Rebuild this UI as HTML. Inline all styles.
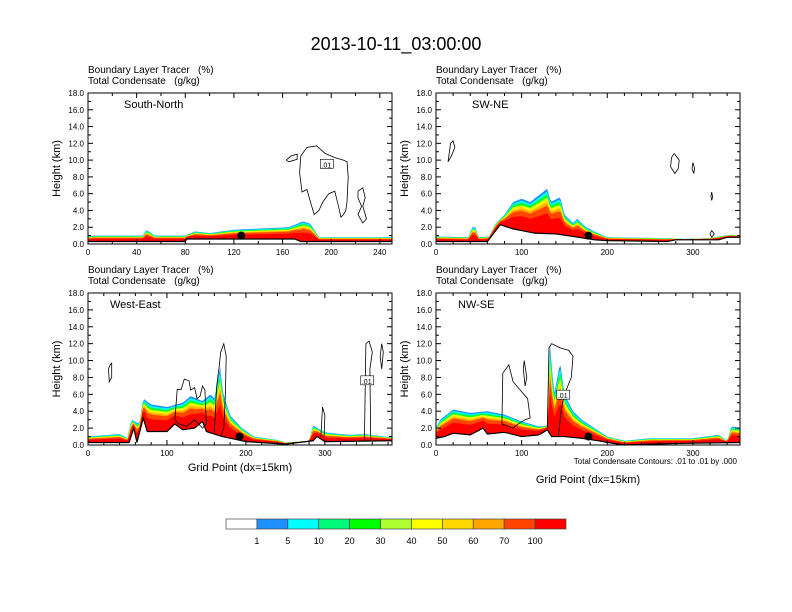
<!DOCTYPE html>
<html><head><meta charset="utf-8"><style>
body{margin:0;background:#fff;}
svg{display:block;font-family:"Liberation Sans",Arial,sans-serif;}
text{white-space:pre;}
</style></head><body>
<svg id="chart" width="792" height="612" viewBox="0 0 792 612" xmlns="http://www.w3.org/2000/svg">
<rect width="792" height="612" fill="#fff"/>
<text x="396" y="50" font-size="18" text-anchor="middle">2013-10-11_03:00:00</text>
<g id="panels"></g>
<g id="colorbar"></g>
</svg>
<script>
// ---- data ----
const levels = ["1","5","10","20","30","40","50","60","70","100"];
const colors = ["#ffffff","#1e90ff","#00ffff","#00fa7a","#00ff00","#adff2f","#ffff00","#ffd700","#ffa500","#ff4500","#ff0000"];
const snGP   = [0,5,45,48,55,80,88,100,120,150,165,177,183,190,250];
const snTop  = [0.9,1.0,1.0,1.7,1.0,1.0,1.5,1.3,1.7,1.9,2.0,2.7,2.4,0.8,0.8];
const snTerrGP = [0,80,81,170,175,190,250];
const snTerr   = [0.3,0.3,0.6,0.6,0.3,0.3,0.3];
const swGP  = [0,38,42,46,50,62,70,80,90,100,110,120,130,134,145,150,160,165,175,185,200,270,290,320,330,345,355];
const swTop = [0.9,0.8,2.0,2.0,0.8,0.9,2.5,3.5,5.0,5.4,5.0,5.8,6.6,5.0,5.6,3.5,2.5,3.0,2.0,1.5,0.8,0.7,0.6,0.7,0.9,1.1,1.0];
const swTerrGP = [0,60,75,90,100,115,140,160,185,200,270,280,330,340,355];
const swTerr   = [0.3,0.3,2.3,1.8,1.6,1.3,1.2,0.9,0.5,0.4,0.3,0.5,0.5,0.8,0.8];
const weGP  = [0,40,50,55,65,70,80,100,120,130,145,155,160,168,170,180,195,210,240,250,280,285,300,330,350,385];
const weTop = [1.0,1.3,0.8,3.0,2.5,5.5,4.8,4.5,5.0,5.8,5.2,6.0,5.5,9.5,6.5,3.5,2.0,1.0,0.6,0.3,0.5,2.3,1.5,1.2,1.3,0.9];
const weTerrGP = [0,52,58,62,70,75,100,110,120,135,145,150,170,185,200,250,285,290,300,385];
const weTerr   = [0.3,0.3,2.0,0.3,3.2,1.6,1.6,2.5,1.8,2.0,2.8,1.6,1.0,0.7,0.4,0.1,0.5,1.0,0.4,0.5];
const nwGP  = [0,5,20,40,60,80,100,120,130,133,138,145,150,160,170,185,200,220,250,300,330,340,345,355];
const nwTop = [2.0,3.0,4.2,3.8,4.0,3.6,2.8,2.2,2.3,12.0,6.0,9.8,6.0,4.0,3.0,2.0,1.0,0.5,0.8,0.8,1.2,0.5,2.2,2.0];
const nwTerrGP = [0,10,20,40,55,60,80,100,120,130,135,150,170,190,200,220,250,290,355];
const nwTerr   = [0.8,1.0,1.4,1.2,2.0,1.3,1.5,1.0,1.2,1.8,1.0,1.0,0.8,0.5,0.3,0.0,0.1,0.2,0.3];
// contours: [gp, km] pairs
const snC = [
 [[175,10.5],[180,11.5],[188,11.7],[195,10.8],[203,10.3],[210,10.0],[213,9.8],[214,8],[213,5],[212,4],[210,3.5],[208,3.2],[206,4.5],[203,6.3],[198,6.0],[193,5.0],[190,4.0],[186,3.5],[183,5],[180,6.5],[176,6.2],[174,8.5],[175,10.5]],
 [[163,10.0],[167,10.5],[172,10.7],[172,10.1],[165,9.8],[163,10.0]],
 [[222,6.3],[226,6.7],[228,5.5],[226,4.5],[229,3.0],[226,2.5],[222,3.5],[225,4.5],[222,5.5],[222,6.3]]];
const swC = [
 [[14,9.8],[17,12],[20,12.3],[22,11.5],[18,10.5],[14,9.8]],
 [[278,10.8],[284,10],[283,9],[279,8.4],[274,9.2],[275,10.3],[278,10.8]],
 [[300,9.7],[302,9.0],[301,8.4],[299,9.0],[300,9.7]],
 [[322,6.2],[323,5.6],[322,5.2],[321,5.7],[322,6.2]],
 [[320,1.2],[322,1.6],[325,1.2],[322,0.8],[320,1.2]]];
const weC = [
 [[28,9.5],[30,9.7],[30,8],[27,7.5],[26,9],[28,9.5]],
 [[110,3],[113,6.6],[118,6.6],[122,7.8],[128,7.6],[130,6.5],[135,6.8],[138,5.5],[142,5.8],[145,7.0],[148,6.5],[150,2.5],[145,2.0],[135,3.0],[125,2.2],[115,2.5],[110,3]],
 [[160,1.5],[163,7],[166,9.2],[168,11],[172,12],[175,10.5],[174,6],[172,2],[168,1.0]],
 [[350,0.5],[352,12],[356,12.3],[360,11],[357,9],[358,0.5]],
 [[370,10.5],[372,12],[374,11],[372,9],[370,10.5]],
 [[295,1.0],[297,4.5],[300,3.5],[299,1]]];
const nwC = [
 [[77,2.5],[78,8.5],[85,9.5],[90,7.5],[100,6.3],[107,5.5],[110,3.2],[104,3.0],[96,2.5],[90,2.0],[77,2.5]],
 [[103,10.0],[106,8],[104,7],[102,9],[103,10.0]],
 [[130,2],[132,11.5],[135,12],[145,11.5],[155,11.2],[160,10.5],[158,8],[150,6.0],[146,4.0],[143,1.0]]];
const panelTitles = ["South-North","SW-NE","West-East","NW-SE"];
const yTicks = [0,2,4,6,8,10,12,14,16,18];
const snXTicks = [0,40,80,120,160,200,240];
const oXTicks = [0,100,200,300];

const NS="http://www.w3.org/2000/svg";
function mk(tag,attrs,parent){const e=document.createElementNS(NS,tag);for(const k in attrs)e.setAttribute(k,attrs[k]);parent.appendChild(e);return e;}
function interp(xs,ys,x){if(x<=xs[0])return ys[0];for(let i=1;i<xs.length;i++){if(x<=xs[i]){const t=(x-xs[i-1])/(xs[i]-xs[i-1]);return ys[i-1]+t*(ys[i]-ys[i-1]);}}return ys[ys.length-1];}
const fracs=[1,0.94,0.89,0.85,0.81,0.77,0.73,0.68,0.62,0.45];
const root=document.getElementById('panels');

function panel(cfg){
 const {L,T,W,H,xmax,xt,minor,gp,top,tgp,terr,cont,dot,title,label,xlabelDy,note}=cfg;
 const sx=v=>L+W*v/xmax, sy=v=>T+H*(1-v/18);
 const g=mk('g',{},root);
 
 
 const t1=mk('text',{x:L,y:T-20,'font-size':10},g);t1.textContent='Boundary Layer Tracer   (%)';
 
 const t2=mk('text',{x:L,y:T-9,'font-size':10},g);t2.textContent='Total Condensate   (g/kg)';
 
 const N=200;
 for(let k=0;k<fracs.length;k++){
  let up=[],dn=[];
  for(let i=0;i<=N;i++){const x=xmax*i/N;const tr=interp(tgp,terr,x);const tp=interp(gp,top,x);
   const h=tr+Math.max(0,tp-tr)*fracs[k];up.push(sx(x).toFixed(1)+','+sy(h).toFixed(1));dn.push(sx(x).toFixed(1)+','+sy(Math.min(tr,tp)).toFixed(1));}
  const p=mk('polygon',{points:up.concat(dn.reverse()).join(' '),fill:colors[k+1]},g);
  
  
 }
 const tl=mk('polyline',{points:tgp.map((x,i)=>sx(x)+','+sy(terr[i])).join(' '),fill:'none',stroke:'#000','stroke-width':1.2},g);
 
 cont.forEach(c=>{const p=mk('polyline',{points:c.map(q=>sx(q[0]).toFixed(1)+','+sy(q[1]).toFixed(1)).join(' '),fill:'none',stroke:'#000','stroke-width':0.8},g);
  });
 if(label){const r=mk('rect',{x:sx(label[0])-6,y:sy(label[1])-5,width:13,height:9,fill:'#fff',stroke:'#000','stroke-width':0.6},g);
  
  const lt=mk('text',{x:sx(label[0]),y:sy(label[1])+3,'font-size':7,'text-anchor':'middle'},g);lt.textContent='.01';
  }
 const d=mk('circle',{cx:sx(dot[0]),cy:sy(dot[1]),r:4,fill:'#000'},g);
 
 const fr=mk('rect',{x:L,y:T,width:W,height:H,fill:'none',stroke:'#000','stroke-width':1},g);
 
 yTicks.forEach(v=>{const y=sy(v);mk('line',{x1:L,x2:L+5,y1:y,y2:y,stroke:'#000'},g);mk('line',{x1:L+W,x2:L+W-5,y1:y,y2:y,stroke:'#000'},g);
  if(v<18){mk('line',{x1:L,x2:L+3,y1:sy(v+1),y2:sy(v+1),stroke:'#000'},g);mk('line',{x1:L+W,x2:L+W-3,y1:sy(v+1),y2:sy(v+1),stroke:'#000'},g);}
  const t=mk('text',{x:L-4,y:y+3,'font-size':8,'text-anchor':'end'},g);t.textContent=v.toFixed(1);
  });
 for(let v=0;v<=xmax;v+=minor){const x=sx(v);const maj=xt.includes(v);const l=maj?5:3;
  mk('line',{x1:x,x2:x,y1:T+H,y2:T+H-l,stroke:'#000'},g);mk('line',{x1:x,x2:x,y1:T,y2:T+l,stroke:'#000'},g);}
 xt.forEach(v=>{const t=mk('text',{x:sx(v),y:T+H+11,'font-size':8,'text-anchor':'middle'},g);t.textContent=v;
  });
 const yl=mk('text',{x:0,y:0,'font-size':11,'text-anchor':'middle',transform:`translate(${L-28},${T+H/2}) rotate(-90)`},g);yl.textContent='Height (km)';
 
 const pt=mk('text',{x:L+(title==='South-North'||title==='SW-NE'?36:22),y:T+15,'font-size':11},g);pt.textContent=title;
 
 if(xlabelDy){const xl=mk('text',{x:L+W/2,y:T+H+xlabelDy,'font-size':11,'text-anchor':'middle'},g);xl.textContent='Grid Point (dx=15km)';
  }
 if(note){const n=mk('text',{x:L+W-3,y:T+H+19,'font-size':8,'text-anchor':'end'},g);n.textContent='Total Condensate Contours: .01 to .01 by .000';
  }
}
panel({L:88,T:93,W:304,H:151,xmax:250,xt:snXTicks,minor:20,gp:snGP,top:snTop,tgp:snTerrGP,terr:snTerr,cont:snC,dot:[126,1.0],title:panelTitles[0],label:[196,9.5]});
panel({L:436,T:93,W:304,H:151,xmax:355,xt:oXTicks,minor:20,gp:swGP,top:swTop,tgp:swTerrGP,terr:swTerr,cont:swC,dot:[178,1.0],title:panelTitles[1]});
panel({L:88,T:293,W:304,H:152,xmax:385,xt:oXTicks,minor:20,gp:weGP,top:weTop,tgp:weTerrGP,terr:weTerr,cont:weC,dot:[192,1.0],title:panelTitles[2],label:[353,7.6],xlabelDy:26});
panel({L:436,T:293,W:304,H:152,xmax:355,xt:oXTicks,minor:20,gp:nwGP,top:nwTop,tgp:nwTerrGP,terr:nwTerr,cont:nwC,dot:[178,1.0],title:panelTitles[3],label:[148,5.9],xlabelDy:38,note:true});
const cb=document.getElementById('colorbar');
const cw=340/colors.length;
colors.forEach((c,i)=>{const r=mk('rect',{x:226+i*cw,y:519,width:cw,height:10,fill:c,stroke:'#444','stroke-width':0.7},cb);
 });
levels.forEach((l,i)=>{const t=mk('text',{x:226+(i+1)*cw,y:544,'font-size':9,'text-anchor':'middle'},cb);t.textContent=l;
 });
</script>
</body></html>
